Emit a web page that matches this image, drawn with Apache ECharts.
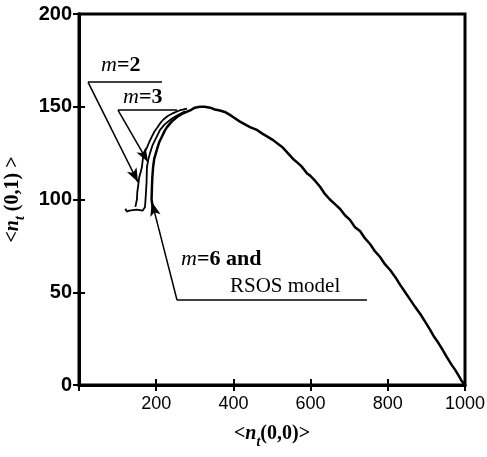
<!DOCTYPE html>
<html>
<head>
<meta charset="utf-8">
<script src="https://cdn.jsdelivr.net/npm/echarts@6/dist/echarts.min.js"></script>
<style>
html,body{margin:0;padding:0;background:#fff;}
#chart{width:487px;height:457px;}
</style>
</head>
<body>
<div id="chart"></div>
<script>
// Main trajectory: m=6 and RSOS model
var mainX = [192,188,188,189,190,192,195,202,208,215,222,228,240,254,270,288,300,313,325,340,352,365,380,392,399,417,430,443,461,475,487,503,515,528,541,554,565,576,591,598,612,624,637,650,663,676,689,702,715,728,741,754,767,780,793,806,820,832,845,858,871,885,897,909,920,930,942,953,965,975,985,992,1000];
var mainY = [94,95,100,107,112,117.5,122,127,131,134,137,139,142,144.5,146.5,148,149.5,150,150,149.5,148.5,148,147,145.5,144.5,142,140.5,139,137.5,135.5,134,132,130,128,125,122,120,118,114,113,110,107,103,100,97.5,95,91.5,89,85,83,79,76,72,69,65,62,58,54,50,46,42,38,34,30,26,23,19,15,11,8,4.5,2,0];
// m=3
var m3X = [120,124,130,150,165,171,173,175,176,180,184,190,197,210,222,240,256,275];
var m3Y = [95,93.5,94,94.5,94,96,102,109,117.5,122,125,129,132,137.5,140.5,143.5,145.5,147.5];
// m=2
var m2X = [146,148,150,151,153,156,160,163,166,171,176,182,189,195,202,210,218,230,244,260,280];
var m2Y = [96,97,100,104,107,112,115,117.5,123,126,128,131,134,136.5,138.5,141,143,145,146.6,148,149];
// axis ticks
var xTicks = [0,200,400,600,800,1000];
var yTicks = [0,50,100,150,200];

function zip(a,b){return a.map(function(v,i){return [v,b[i]];});}

var chart = echarts.init(document.getElementById('chart'));
var serif = '"Liberation Serif","Times New Roman",serif';
var sans = '"Liberation Sans",Arial,sans-serif';
var nameRich = {
  a:{fontFamily:serif,fontWeight:'bold',fontSize:20,color:'#000',lineHeight:30,verticalAlign:'middle'},
  n:{fontFamily:serif,fontWeight:'bold',fontStyle:'italic',fontSize:20,color:'#000',lineHeight:30,verticalAlign:'middle'},
  t:{fontFamily:serif,fontWeight:'bold',fontStyle:'italic',fontSize:14,color:'#000',lineHeight:30,verticalAlign:'bottom'}
};
var annRich = {
  i:{fontFamily:serif,fontStyle:'italic',fontSize:22,fill:'#000',color:'#000'},
  b:{fontFamily:serif,fontWeight:'bold',fontSize:22,fill:'#000',color:'#000'},
  r:{fontFamily:serif,fontSize:21,fill:'#000',color:'#000'}
};

function annLine(p0,p1,arrow){
  return [{coord:p0,symbol:'none'},{coord:p1,symbol:arrow?'arrow':'none',symbolSize:arrow?[8,14]:0}];
}
function plain(v){return String(v);}

chart.setOption({
  animation:false,
  grid:{left:79,right:22,top:14,bottom:72,outerBoundsMode:'none',containLabel:false,show:true,borderColor:'#000',borderWidth:3,backgroundColor:'#fff'},
  xAxis:[{
    type:'value',min:0,max:1000,interval:200,
    name:'{a|<}{n|n}{t|t}{a|(0,0)>}',nameLocation:'middle',nameGap:34,
    nameTextStyle:{rich:nameRich},
    axisLine:{show:true,lineStyle:{color:'#000',width:3}},
    axisTick:{show:true,inside:true,length:6,lineStyle:{color:'#000',width:2}},
    axisLabel:{showMinLabel:false,fontFamily:sans,fontSize:18,color:'#000',margin:10,formatter:plain},
    splitLine:{show:false}
  },{
    type:'value',position:'top',min:0,max:1000,interval:200,
    axisLine:{show:true,lineStyle:{color:'#000',width:3}},
    axisTick:{show:true,inside:true,length:6,lineStyle:{color:'#000',width:2}},
    axisLabel:{show:false},splitLine:{show:false}
  }],
  yAxis:[{
    type:'value',min:0,max:200,interval:50,
    name:'{a|<}{n|n}{t|t}{a| (0,1) >}',nameLocation:'middle',nameGap:44,nameRotate:90,
    nameTextStyle:{rich:nameRich},
    axisLine:{show:true,lineStyle:{color:'#000',width:3}},
    axisTick:{show:true,inside:true,length:6,lineStyle:{color:'#000',width:2}},
    axisLabel:{fontFamily:sans,fontWeight:'bold',fontSize:20,color:'#000',margin:7,formatter:plain},
    splitLine:{show:false}
  },{
    type:'value',position:'right',min:0,max:200,interval:50,
    axisLine:{show:true,lineStyle:{color:'#000',width:3}},
    axisTick:{show:true,inside:true,length:6,lineStyle:{color:'#000',width:2}},
    axisLabel:{show:false},splitLine:{show:false}
  }],
  series:[
    {type:'line',name:'m=6 and RSOS model',data:zip(mainX,mainY),showSymbol:false,symbol:'none',
     lineStyle:{color:'#000',width:2.5},z:5,
     markLine:{silent:true,animation:false,lineStyle:{color:'#000',width:1.5,type:'solid'},label:{show:false},
       data:[
         annLine([23.3,163.3],[215,163.3],false),
         annLine([23.3,163.3],[152.8,109.4],true),
         annLine([101,148.2],[254,148.2],false),
         annLine([101,148.2],[178.8,120.2],true),
         annLine([253.9,45.8],[746,45.8],false),
         annLine([253.9,45.8],[189,98.6],true)
       ]}},
    {type:'line',name:'m=3',data:zip(m3X,m3Y),showSymbol:false,symbol:'none',lineStyle:{color:'#000',width:1.8},z:4},
    {type:'line',name:'m=2',data:zip(m2X,m2Y),showSymbol:false,symbol:'none',lineStyle:{color:'#000',width:1.8},z:4}
  ],
  graphic:[
    {type:'text',left:101,top:54,style:{text:'{i|m}{b|=2}',rich:annRich}},
    {type:'text',left:123,top:86,style:{text:'{i|m}{b|=3}',rich:annRich}},
    {type:'text',left:181,top:248,style:{text:'{i|m}{b|=6 and}',rich:annRich}},
    {type:'text',left:230,top:276,style:{text:'{r|RSOS model}',rich:annRich}}
  ]
});
</script>
</body>
</html>
